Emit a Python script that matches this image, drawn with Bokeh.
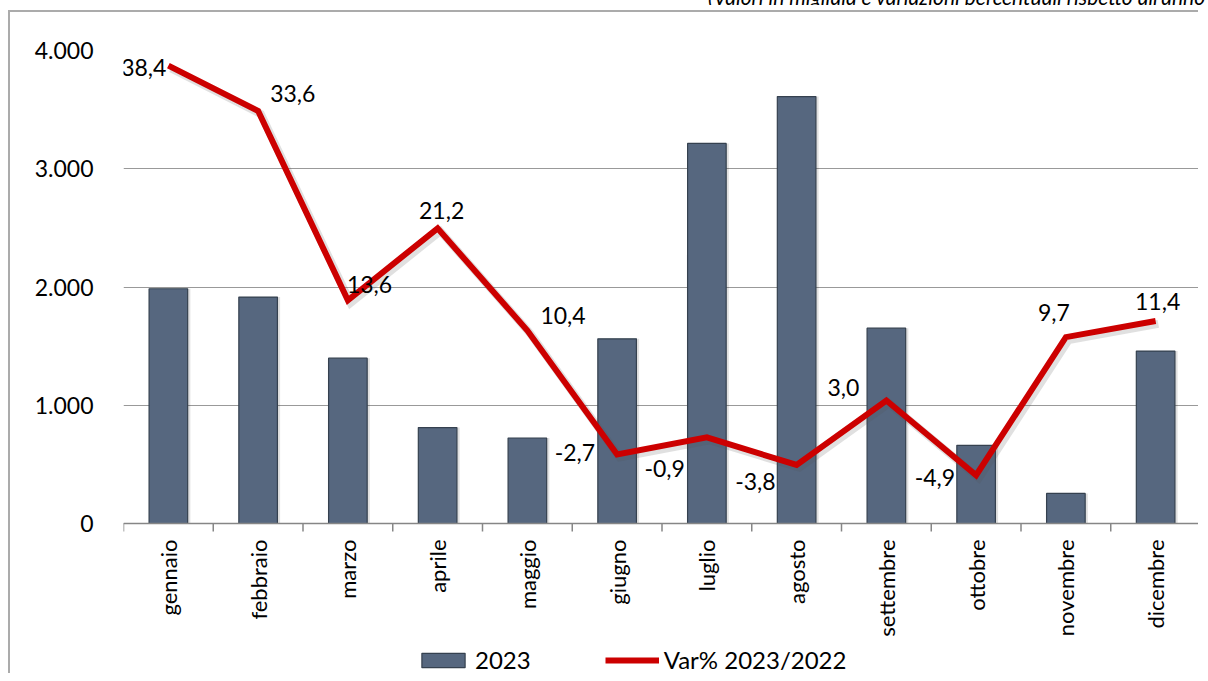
import math
from bokeh.plotting import figure
from bokeh.models import (ColumnDataSource, Range1d, FixedTicker, Span,
                          Legend, LegendItem, Div)
from bokeh.layouts import column
from bokeh.embed import file_html
from bokeh.resources import INLINE
from bokeh.core.properties import value
from bokeh.transform import dodge

# ---------------- data ----------------
months = ["gennaio", "febbraio", "marzo", "aprile", "maggio", "giugno",
          "luglio", "agosto", "settembre", "ottobre", "novembre", "dicembre"]
values_2023 = [1985, 1915, 1398, 811, 723, 1562, 3214, 3610, 1652, 661, 254, 1458]
var_pct = [38.4, 33.6, 13.6, 21.2, 10.4, -2.7, -0.9, -3.8, 3.0, -4.9, 9.7, 11.4]
y_ticks = [0, 1000, 2000, 3000, 4000]
y_tick_labels = ["0", "1.000", "2.000", "3.000", "4.000"]
series_names = ["2023", "Var% 2023/2022"]
subtitle = "(Valori in migliaia e variazioni percentuali rispetto all'anno 2022)"

# ---------------- label placement (style) ----------------
lab_dx = [-2, 12, -1, 4, 13, -22, -22, -21, -27, -21, -12, 2]
lab_dy = [2, -18, -16, -18, -15, -2, 31, 17, -13, 2, -25, -20]
lab_align = ["right", "left", "left", "center", "left", "right",
             "right", "right", "right", "right", "center", "center"]

FONT = "Lato"
n = len(months)
idx = list(range(n))

# ---------------- geometry (pixels) ----------------
FIG_W, FIG_H = 1190, 663
TOP, LEFT = 38, 113
FRAME_H = FIG_H - TOP          # frame runs to the bottom of the figure
PLOT_H = 473                   # pixel height of the 0..4000 value band
Y_MAX = 4000
PCT_MIN, PCT_MAX = -10, 40
y_min = -Y_MAX * (FRAME_H - PLOT_H) / PLOT_H
pct_min = PCT_MIN - (PCT_MAX - PCT_MIN) * (FRAME_H - PLOT_H) / PLOT_H
TICK_LEN = 8 * Y_MAX / PLOT_H  # 8 px tick marks expressed in data units

src = ColumnDataSource(dict(
    x=idx, month=months, v=values_2023, pct=var_pct, base=[0] * n,
    lab=[f"{x:.1f}".replace(".", ",") for x in var_pct],
    dx=lab_dx, dy=lab_dy, align=lab_align,
))
bounds = [i - 0.5 for i in range(n + 1)]
tick_src = ColumnDataSource(dict(x=bounds, y0=[0] * len(bounds),
                                 y1=[-TICK_LEN] * len(bounds)))

p = figure(width=FIG_W, height=FIG_H,
           x_range=Range1d(-0.5, n - 0.5), y_range=Range1d(y_min, Y_MAX),
           x_axis_location=None, toolbar_location=None, output_backend="svg")
p.extra_y_ranges = {"pct": Range1d(pct_min, PCT_MAX)}
p.min_border_left = LEFT
p.min_border_right = 0
p.min_border_top = TOP
p.min_border_bottom = 0
p.outline_line_color = None
p.background_fill_color = "white"
p.border_fill_color = "white"
p.styles = {"border-left": "2px solid #ababab", "border-top": "2px solid #ababab",
            "margin-left": "8px"}

# y axis
ya = p.yaxis[0]
ya.ticker = FixedTicker(ticks=y_ticks)
ya.major_label_overrides = dict(zip(y_ticks, y_tick_labels))
ya.axis_line_color = None
ya.major_tick_line_color = None
ya.minor_tick_line_color = None
ya.major_label_standoff = 24
ya.major_label_text_font = FONT
ya.major_label_text_font_size = "23px"
ya.major_label_text_color = "black"

p.ygrid.ticker = FixedTicker(ticks=y_ticks)
p.ygrid.grid_line_color = "#999999"
p.ygrid.grid_line_width = 1
p.xgrid.visible = False

# category axis: base line, boundary ticks, month names
p.add_layout(Span(location=0, dimension="width", line_color="#868686", line_width=1.5))
p.segment(x0="x", y0="y0", x1="x", y1="y1", source=tick_src,
          line_color="#868686", line_width=1.5)
p.text(x="x", y="base", text="month", source=src, angle=math.pi / 2,
       y_offset=16, text_align="right", text_baseline="middle",
       text_font=value(FONT), text_font_size="22px", text_color="black")

# bars
p.vbar(x=dodge("x", 0.03), top="v", width=0.43, source=src,
       fill_color="black", fill_alpha=0.12, line_color=None)
r_bar = p.vbar(x="x", top="v", width=0.43, source=src,
               fill_color="#56677f", line_color="#35414f", line_width=1.2)

# line (with soft shadow)
p.line(x=dodge("x", 0.03), y=dodge("pct", -0.3), source=src,
       y_range_name="pct", line_color="#555555", line_alpha=0.18, line_width=8,
       line_join="miter")
r_line = p.line(x="x", y="pct", source=src, y_range_name="pct",
                line_color="#cc0000", line_width=6, line_join="miter")

# data labels
p.text(x="x", y="pct", text="lab", source=src, y_range_name="pct",
       x_offset="dx", y_offset="dy", text_align="align", text_baseline="middle",
       text_font=value(FONT), text_font_size="23px", text_color="black")

legend = Legend(items=[LegendItem(label=value(series_names[0]), renderers=[r_bar]),
                       LegendItem(label=value(series_names[1]), renderers=[r_line])],
                location=(293, 1), orientation="horizontal",
                glyph_width=54, glyph_height=18, label_standoff=5, spacing=74,
                padding=0, margin=0, border_line_color=None, background_fill_alpha=0,
                label_text_font=FONT, label_text_font_size="24px",
                label_text_color="black")
p.add_layout(legend)

title = Div(text=('<div style="padding-left:703px;white-space:nowrap;overflow:hidden;'
                  'font-style:italic;font-family:Lato;font-size:21px;line-height:17px;'
                  'color:black">' + subtitle + '</div>'),
            width=1200, height=17)

layout = column(title, p, styles={"margin-top": "-17px"}, spacing=0)

open("out.html", "w").write(file_html(layout, INLINE))
